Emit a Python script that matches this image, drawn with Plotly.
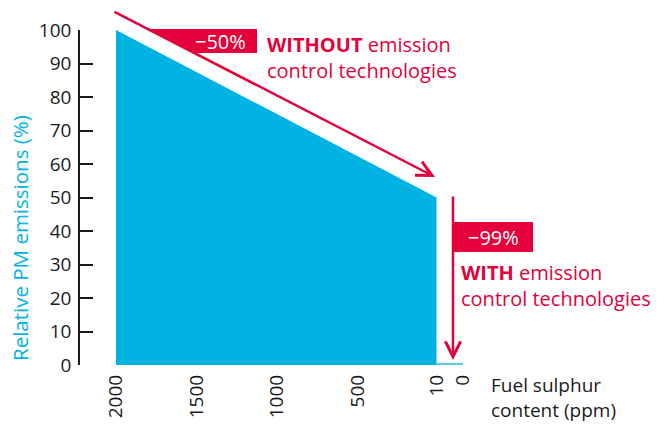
import plotly.graph_objects as go

# ---- data ----
sulphur_ppm = [2000, 10]          # fuel sulphur content, without emission control
pm_without = [100, 50]            # relative PM emissions (%)
tail_ppm = [10, 0]                # with emission control technologies
pm_with = [0.5, 0.5]
main_ticks = [2000, 1500, 1000, 500, 10]
tail_ticks = [0]
y_ticks = [0, 10, 20, 30, 40, 50, 60, 70, 80, 90, 100]

CYAN = "#00b3e3"
RED = "#e4003a"
FONT = "Open Sans"
INK = "#1a1a1a"

W, H = 666, 425
L, R, T, B = 80, 186, 30, 60
PX0, PX1 = L, W - R          # plot area pixel x
PY0, PY1 = T, H - B          # plot area pixel y (top, bottom)


def fx(px):
    return (px - PX0) / (PX1 - PX0)


def fy(py):
    return (PY1 - py) / (PY1 - PY0)


def axis_range(v_a, p_a, v_b, p_b):
    s = (p_b - p_a) / (v_b - v_a)
    return [v_a + (PX0 - p_a) / s, v_a + (PX1 - p_a) / s]


fig = go.Figure()
fig.add_trace(go.Scatter(x=sulphur_ppm, y=pm_without, mode="lines", fill="tozeroy",
                         line=dict(color=CYAN, width=0), fillcolor=CYAN,
                         hoverinfo="skip", showlegend=False))
fig.add_trace(go.Scatter(x=tail_ppm, y=pm_with, mode="lines", fill="tozeroy",
                         line=dict(color="#5cc6ea", width=1), fillcolor="#5cc6ea",
                         xaxis="x2", hoverinfo="skip", showlegend=False))

tickfont = dict(family=FONT, size=19, color=INK)
fig.update_layout(
    width=W, height=H, margin=dict(l=L, r=R, t=T, b=B, autoexpand=False),
    plot_bgcolor="white", paper_bgcolor="white", showlegend=False,
    xaxis=dict(range=axis_range(2000, 116, 10, 436.5), tickvals=main_ticks,
               tickangle=-90, ticks="", showline=False, showgrid=False,
               zeroline=False, tickfont=tickfont, ticklabelstandoff=5,
               automargin=False),
    xaxis2=dict(range=axis_range(10, 436.5, 0, 463), tickvals=tail_ticks,
                overlaying="x", anchor="y", side="bottom",
                tickangle=-90, ticks="", showline=False, showgrid=False,
                zeroline=False, tickfont=tickfont, ticklabelstandoff=5,
                automargin=False),
    yaxis=dict(range=[0, 100], tickvals=y_ticks, ticks="inside", ticklen=13,
               tickwidth=1.5, tickcolor=INK, showline=True,
               linecolor=INK, linewidth=1.5, showgrid=False,
               zeroline=False, tickfont=tickfont, ticklabelstandoff=3,
               automargin=False),
)

# red label boxes
fig.add_shape(type="path", xref="paper", yref="paper", layer="above",
              path=f"M{fx(148)},{fy(29)} L{fx(257)},{fy(29)} L{fx(257)},{fy(53)} L{fx(194.5)},{fy(53)} Z",
              fillcolor=RED, line=dict(width=0))
fig.add_shape(type="rect", xref="paper", yref="paper", layer="above",
              x0=fx(453), x1=fx(533), y0=fy(252), y1=fy(222),
              fillcolor=RED, line=dict(width=0))

# arrows
fig.add_annotation(xref="paper", yref="paper", x=fx(435), y=fy(177),
                   ax=113 - 435, ay=11 - 177, axref="pixel", ayref="pixel",
                   showarrow=True, arrowhead=5, arrowsize=1.2, arrowwidth=2.5,
                   arrowcolor=RED, text="", standoff=0)
fig.add_annotation(xref="paper", yref="paper", x=fx(453), y=fy(360),
                   ax=0, ay=195 - 360, axref="pixel", ayref="pixel",
                   showarrow=True, arrowhead=5, arrowsize=1.2, arrowwidth=2.5,
                   arrowcolor=RED, text="", standoff=0)


def label(text, px, py, color, size=20, xanchor="left"):
    fig.add_annotation(xref="paper", yref="paper", x=fx(px), y=fy(py),
                       text=text, showarrow=False, xanchor=xanchor, align="left",
                       yanchor="middle", font=dict(family=FONT, size=size, color=color))


label("−50%", 248, 41, "white", xanchor="right")
label("−99%", 493, 237, "white", xanchor="center")
label("<b>WITHOUT</b> emission<br>control technologies", 265, 57, RED)
label("<b>WITH</b> emission<br>control technologies", 459, 285.5, RED)
label("Fuel sulphur<br>content (ppm)", 489, 397, INK, size=19)

fig.add_annotation(xref="paper", yref="paper", x=fx(20), y=fy(238),
                   text="Relative PM emissions (%)", textangle=-90,
                   showarrow=False, xanchor="center", yanchor="middle",
                   font=dict(family=FONT, size=20.5, color=CYAN))

fig.write_html("out.html", config={"displayModeBar": False},
               post_script="document.body.style.margin='0';document.body.style.overflow='hidden';")
